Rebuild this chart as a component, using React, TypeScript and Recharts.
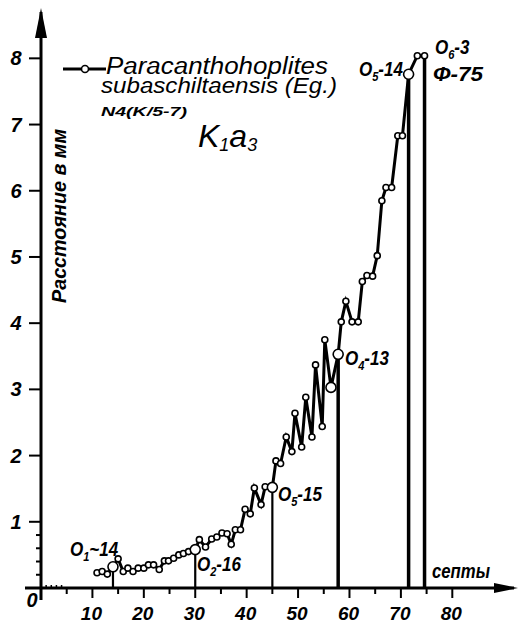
import { LineChart, Line, XAxis, YAxis, ReferenceLine, ReferenceDot, Customized } from "recharts";

// septum number vs distance (mm)
const septa = [
  10.9, 11.9, 12.9, 14, 15, 16, 16.9, 17.9, 18.9, 20, 20.9, 21.9, 23, 24, 24.8, 25.8, 26.8, 27.7, 28.7, 30,
  30.8, 32, 33.2, 34.2, 35.2, 36.2, 37, 37.8, 38.8, 39.7, 40.7, 41.5, 42.8, 43.6, 45,
  45.7, 46.6, 47.7, 48.8, 49.4, 50.7, 51.5, 52.7, 53.4, 54.7, 55.2, 56.4, 57.8,
  58.4, 59.3, 60.5, 61.7, 62.5, 63.4, 64.5, 65.4, 66.3, 67.1, 68.2, 69.4, 70.3, 71.5, 73.2, 74.6,
];
const distance = [
  0.23, 0.25, 0.21, 0.32, 0.44, 0.25, 0.3, 0.25, 0.3, 0.3, 0.35, 0.35, 0.28, 0.41, 0.41, 0.45, 0.5, 0.52, 0.55, 0.58,
  0.73, 0.62, 0.74, 0.77, 0.83, 0.82, 0.66, 0.88, 0.88, 1.19, 1.12, 1.51, 1.26, 1.53, 1.52,
  1.92, 1.88, 2.28, 2.06, 2.64, 2.13, 2.88, 2.28, 3.37, 2.44, 3.75, 3.03, 3.53,
  4.02, 4.33, 4.02, 4.02, 4.63, 4.72, 4.71, 5.02, 5.85, 6.05, 6.05, 6.83, 6.83, 7.76, 8.04, 8.04,
];
// specimens marked with a vertical line down to the axis
const specimenSepta = [14, 30, 45, 57.8, 71.5, 74.6];
const heavyLines = [57.8, 71.5, 74.6];
const largeMarks = [14, 30, 45, 56.4, 57.8, 71.5];

const xTicks = [0, 1, 2, 3, 4, 5, 10, 15, 20, 25, 30, 35, 40, 45, 50, 55, 60, 65, 70, 75, 80];
const xLabels = [10, 20, 30, 40, 50, 60, 70, 80];
const yTicks = [0, 0.2, 0.4, 0.6, 0.8, 1, 2, 3, 4, 5, 6, 7, 8];
const yLabels = [1, 2, 3, 4, 5, 6, 7, 8];

const data = septa.map((s, i) => ({ septum: s, dist: distance[i] }));

const hand = "'Liberation Sans', Arial, sans-serif";

const XTick = (props: any) => {
  const { x, y, payload } = props;
  const v = payload.value;
  if (v === 0) {
    return (
      <g>
        <line x1={x - 16} y1={y} x2={x} y2={y} stroke="#000" strokeWidth={3} />
        <text x={x - 9} y={y + 19} textAnchor="middle" fontFamily={hand} fontSize={20} fontStyle="italic" fontWeight="bold" fill="#000">0</text>
      </g>
    );
  }
  if (v < 5) return <line x1={x} y1={y} x2={x} y2={y - 3} stroke="#000" strokeWidth={1.5} />;
  const major = xLabels.includes(v);
  return (
    <g>
      <line x1={x} y1={y} x2={x} y2={y + (major ? 10 : 6)} stroke="#000" strokeWidth={2} />
      {major && (
        <text x={x - 1} y={y + 32} textAnchor="middle" fontFamily={hand} fontSize={19} fontStyle="italic" fontWeight="bold" fill="#000">
          {v}
        </text>
      )}
    </g>
  );
};

const YTick = (props: any) => {
  const { x, y, payload } = props;
  const v = payload.value;
  if (v === 0) return <line x1={x} y1={y} x2={x} y2={y + 12} stroke="#000" strokeWidth={3} />;
  const major = yLabels.includes(v);
  return (
    <g>
      <line x1={x - (major ? 12 : 5)} y1={y} x2={x} y2={y} stroke="#000" strokeWidth={2} />
      {major && (
        <text x={x - 25} y={y + 7} textAnchor="middle" fontFamily={hand} fontSize={20} fontStyle="italic" fontWeight="bold" fill="#000">
          {v}
        </text>
      )}
    </g>
  );
};

const Dot = (props: any) => {
  const { cx, cy, payload, index } = props;
  const big = largeMarks.includes(payload.septum);
  return <circle key={index} cx={cx} cy={cy} r={big ? 5 : 3} fill="#fff" stroke="#000" strokeWidth={1.6} />;
};

const OLabel = ({ x, y, sub, rest }: { x: number; y: number; sub: string; rest: string }) => (
  <g transform={`translate(${x} ${y}) scale(0.85 1)`}>
    <text x={0} y={0} fontFamily={hand} fontSize={20} fontStyle="italic" fontWeight="bold" fill="#000">
      O<tspan dy={5} fontSize={13}>{sub}</tspan><tspan dy={-5}>{rest}</tspan>
    </text>
  </g>
);

const Notes = () => (
  <g>
    <line x1={63} y1={69} x2={106} y2={69} stroke="#000" strokeWidth={3} />
    <circle cx={85} cy={69} r={3.5} fill="#fff" stroke="#000" strokeWidth={1.6} />
    <text x={106} y={74} fontFamily={hand} fontSize={23} fontStyle="italic" fill="#000" textLength={222} lengthAdjust="spacingAndGlyphs">
      Paracanthohoplites
    </text>
    <text x={101} y={93} fontFamily={hand} fontSize={22} fontStyle="italic" fill="#000" textLength={236} lengthAdjust="spacingAndGlyphs">
      subaschiltaensis (Eg.)
    </text>
    <text x={101} y={116} fontFamily={hand} fontSize={13} fontStyle="italic" fontWeight="bold" fill="#000" textLength={86} lengthAdjust="spacingAndGlyphs">
      N4(K/5-7)
    </text>
    <text x={198} y={147} fontFamily={hand} fontSize={32} fontStyle="italic" fill="#000">
      K<tspan dy={4} fontSize={18}>1</tspan><tspan dy={-4}>a</tspan><tspan dy={4} fontSize={18}>3</tspan>
    </text>
    <text
      x={58}
      y={216}
      transform="rotate(-90 58 216)"
      textAnchor="middle"
      dominantBaseline="central"
      fontFamily={hand}
      fontSize={21}
      fontStyle="italic"
      fontWeight="bold"
      fill="#000"
      textLength={174}
      lengthAdjust="spacingAndGlyphs"
    >
      Расстояние в мм
    </text>
    <text x={432} y={578} fontFamily={hand} fontSize={21} fontStyle="italic" fontWeight="bold" fill="#000" textLength={58} lengthAdjust="spacingAndGlyphs">
      септы
    </text>
    <OLabel x={70} y={556} sub="1" rest="~14" />
    <OLabel x={197} y={571} sub="2" rest="-16" />
    <OLabel x={278} y={501} sub="5" rest="-15" />
    <OLabel x={345} y={365} sub="4" rest="-13" />
    <OLabel x={359} y={76} sub="5" rest="-14" />
    <OLabel x={435} y={54} sub="6" rest="-3" />
    <text x={433} y={81} fontFamily={hand} fontSize={20} fontStyle="italic" fontWeight="bold" fill="#000" textLength={50} lengthAdjust="spacingAndGlyphs">
      Ф-75
    </text>
  </g>
);

const ArrowRight = (props: any) => {
  const { cx, cy } = props;
  return <polygon points={`${cx - 20},${cy - 5} ${cx + 4},${cy} ${cx - 20},${cy + 5}`} fill="#000" />;
};

const ArrowUp = (props: any) => {
  const { cx, cy } = props;
  return <polygon points={`${cx - 6},${cy + 26} ${cx},${cy - 4} ${cx + 6},${cy + 26}`} fill="#000" />;
};

export default function App() {
  return (
    <div style={{ width: 520, height: 623, background: "#fff" }}>
      <style>{`body{margin:0;background:#fff}`}</style>
      <LineChart width={520} height={623} data={data} margin={{ top: 12, right: 6, bottom: 0, left: 0 }}>
        <XAxis
          dataKey="septum"
          type="number"
          domain={[0, 92]}
          ticks={xTicks}
          interval={0}
          height={35}
          tickSize={0}
          tickMargin={0}
          tick={<XTick />}
          tickLine={false}
          axisLine={{ stroke: "#000", strokeWidth: 3 }}
        />
        <YAxis
          type="number"
          domain={[0, 8.7]}
          ticks={yTicks}
          interval={0}
          width={41}
          tickSize={0}
          tickMargin={0}
          tick={<YTick />}
          tickLine={false}
          axisLine={{ stroke: "#000", strokeWidth: 3 }}
        />
        {specimenSepta.map((s) => (
          <ReferenceLine
            key={s}
            segment={[
              { x: s, y: 0 },
              { x: s, y: distance[septa.indexOf(s)] },
            ]}
            stroke="#000"
            strokeWidth={heavyLines.includes(s) ? 3.5 : 2.2}
          />
        ))}
        <ReferenceDot x={92} y={0} r={0} shape={<ArrowRight />} ifOverflow="visible" />
        <ReferenceDot x={0} y={8.7} r={0} shape={<ArrowUp />} ifOverflow="visible" />
        <Line
          type="linear"
          dataKey="dist"
          stroke="#000"
          strokeWidth={3}
          dot={Dot}
          activeDot={false}
          isAnimationActive={false}
        />
        <Customized component={Notes} />
      </LineChart>
    </div>
  );
}
